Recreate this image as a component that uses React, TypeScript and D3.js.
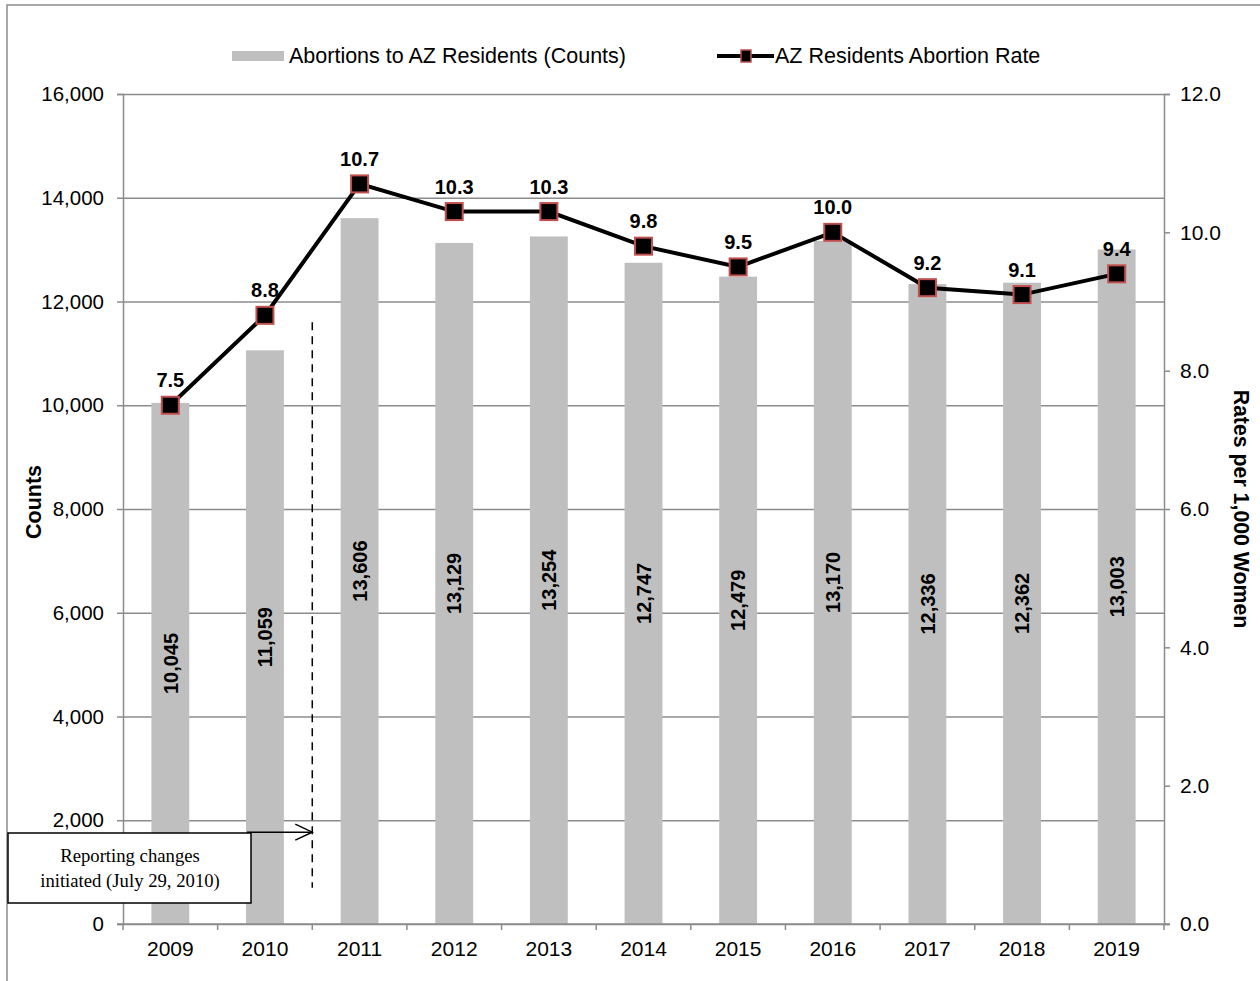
import { useEffect, useRef } from 'react'
import * as d3 from 'd3'

const W = 1260
const H = 981
const MARGIN = { top: 94, right: 96, bottom: 57, left: 123 }

const YEARS = ['2009', '2010', '2011', '2012', '2013', '2014', '2015', '2016', '2017', '2018', '2019']
const COUNTS = [10045, 11059, 13606, 13129, 13254, 12747, 12479, 13170, 12336, 12362, 13003]
const RATES = [7.5, 8.8, 10.7, 10.3, 10.3, 9.8, 9.5, 10.0, 9.2, 9.1, 9.4]
const COUNT_TICKS = [0, 2000, 4000, 6000, 8000, 10000, 12000, 14000, 16000]
const RATE_TICKS = [0, 2, 4, 6, 8, 10, 12]

const BAR_COLOR = '#bfbfbf'
const GRID = '#8c8c8c'
const MARKER_STROKE = '#c0504d'
const FONT = 'Liberation Sans, Arial, sans-serif'
const SERIF = 'Liberation Serif, Times New Roman, serif'

export default function App() {
  const svgRef = useRef<SVGSVGElement>(null)

  useEffect(() => {
    const svgEl = svgRef.current
    if (!svgEl) return
    const svg = d3.select(svgEl)
    svg.selectAll('*').remove()

    const innerWidth = W - MARGIN.left - MARGIN.right
    const innerHeight = H - MARGIN.top - MARGIN.bottom

    // outer frame
    svg.append('rect')
      .attr('x', 7).attr('y', 5).attr('width', W + 20).attr('height', H + 20)
      .attr('fill', 'white').attr('stroke', '#8c8c8c').attr('stroke-width', 1.5)

    const g = svg.append('g').attr('transform', `translate(${MARGIN.left},${MARGIN.top})`)

    // ── Scales ──
    const x = d3.scaleBand<string>().domain(YEARS).range([0, innerWidth]).paddingInner(0).paddingOuter(0)
    const yL = d3.scaleLinear([0, 16000], [innerHeight, 0])
    const yR = d3.scaleLinear([0, 12], [innerHeight, 0])
    const barW = x.bandwidth() * 0.4

    // ── Grid ──
    g.append('g')
      .call(d3.axisLeft(yL).tickValues(COUNT_TICKS).tickSize(-innerWidth).tickFormat(() => ''))
      .call(ag => ag.select('.domain').remove())
      .call(ag => ag.selectAll('.tick line').attr('stroke', GRID).attr('stroke-width', 1.5))

    // ── Bars ──
    g.selectAll('rect.bar')
      .data(COUNTS)
      .join('rect')
      .attr('class', 'bar')
      .attr('x', (_, i) => x(YEARS[i])! + (x.bandwidth() - barW) / 2)
      .attr('width', barW)
      .attr('y', d => yL(d))
      .attr('height', d => innerHeight - yL(d))
      .attr('fill', BAR_COLOR)

    // bar labels (rotated)
    g.selectAll('text.barlabel')
      .data(COUNTS)
      .join('text')
      .attr('class', 'barlabel')
      .attr('transform', (d, i) => {
        const cx = x(YEARS[i])! + x.bandwidth() / 2
        const cy = yL(d / 2)
        return `translate(${cx},${cy}) rotate(-90)`
      })
      .attr('text-anchor', 'middle').attr('dy', '0.36em')
      .attr('font-family', FONT).attr('font-weight', 'bold').attr('font-size', 20)
      .attr('fill', '#000')
      .text(d => d3.format(',')(d))

    // ── Axes ──
    g.append('g')
      .call(d3.axisLeft(yL).tickValues(COUNT_TICKS).tickSize(6).tickPadding(13).tickFormat(d => d3.format(',')(d as number)))
      .call(ag => ag.select('.domain').attr('stroke', GRID).attr('stroke-width', 1.5))
      .call(ag => ag.selectAll('.tick line').attr('stroke', GRID).attr('stroke-width', 1.5))
      .call(ag => ag.selectAll('text').attr('fill', '#000').attr('font-size', 20.5).attr('font-family', FONT))

    g.append('g')
      .attr('transform', `translate(${innerWidth},0)`)
      .call(d3.axisRight(yR).tickValues(RATE_TICKS).tickSize(6).tickPadding(10).tickFormat(d3.format('.1f')))
      .call(ag => ag.select('.domain').attr('stroke', GRID).attr('stroke-width', 1.5))
      .call(ag => ag.selectAll('.tick line').attr('stroke', GRID).attr('stroke-width', 1.5))
      .call(ag => ag.selectAll('text').attr('fill', '#000').attr('font-size', 21).attr('font-family', FONT))

    const xAxis = g.append('g').attr('transform', `translate(0,${innerHeight})`)
    xAxis.append('line')
      .attr('x1', -6).attr('x2', innerWidth + 6)
      .attr('stroke', GRID).attr('stroke-width', 1.5)
    const bounds = YEARS.map(yr => x(yr)!).concat([innerWidth])
    xAxis.selectAll('line.xt')
      .data(bounds)
      .join('line')
      .attr('class', 'xt')
      .attr('x1', d => d).attr('x2', d => d).attr('y1', 0).attr('y2', 6)
      .attr('stroke', GRID).attr('stroke-width', 1.5)
    xAxis.selectAll('text')
      .data(YEARS)
      .join('text')
      .attr('x', d => x(d)! + x.bandwidth() / 2).attr('y', 32)
      .attr('text-anchor', 'middle')
      .attr('font-family', FONT).attr('font-size', 21).attr('fill', '#000')
      .text(d => d)

    // axis titles
    svg.append('text')
      .attr('transform', `translate(41,${502}) rotate(-90)`)
      .attr('text-anchor', 'middle')
      .attr('font-family', FONT).attr('font-weight', 'bold').attr('font-size', 21.5)
      .text('Counts')
    svg.append('text')
      .attr('transform', `translate(1234,${509}) rotate(90)`)
      .attr('text-anchor', 'middle')
      .attr('font-family', FONT).attr('font-weight', 'bold').attr('font-size', 21.3)
      .text('Rates per 1,000 Women')

    // ── Reporting change annotation ──
    const changeX = x('2011')!
    g.append('line')
      .attr('x1', changeX).attr('x2', changeX)
      .attr('y1', yL(11600)).attr('y2', yL(700))
      .attr('stroke', '#000').attr('stroke-width', 1.5).attr('stroke-dasharray', '8,6')

    const arrowY = yL(1770)
    g.append('line')
      .attr('x1', 247 - MARGIN.left).attr('x2', changeX)
      .attr('y1', arrowY).attr('y2', arrowY)
      .attr('stroke', '#000').attr('stroke-width', 1.5)
    g.append('path')
      .attr('d', `M${changeX - 17},${arrowY - 8} L${changeX},${arrowY} L${changeX - 17},${arrowY + 8}`)
      .attr('fill', 'none').attr('stroke', '#000').attr('stroke-width', 1.5)

    svg.append('rect')
      .attr('x', 8).attr('y', 833).attr('width', 243).attr('height', 70)
      .attr('fill', 'white').attr('stroke', '#000').attr('stroke-width', 1.5)
    svg.append('text')
      .attr('x', 130).attr('y', 862).attr('text-anchor', 'middle')
      .attr('font-family', SERIF).attr('font-size', 18.7)
      .text('Reporting changes')
    svg.append('text')
      .attr('x', 130).attr('y', 887).attr('text-anchor', 'middle')
      .attr('font-family', SERIF).attr('font-size', 18.7)
      .text('initiated (July 29, 2010)')

    // ── Rate line ──
    const cx = (i: number) => x(YEARS[i])! + x.bandwidth() / 2
    g.append('path')
      .datum(RATES)
      .attr('d', d3.line<number>().x((_, i) => cx(i)).y(d => yR(d)))
      .attr('fill', 'none').attr('stroke', '#000').attr('stroke-width', 4)

    const M = 17
    g.selectAll('rect.marker')
      .data(RATES)
      .join('rect')
      .attr('class', 'marker')
      .attr('x', (_, i) => cx(i) - M / 2).attr('y', d => yR(d) - M / 2)
      .attr('width', M).attr('height', M)
      .attr('fill', '#000').attr('stroke', MARKER_STROKE).attr('stroke-width', 2)

    g.selectAll('text.ratelabel')
      .data(RATES)
      .join('text')
      .attr('class', 'ratelabel')
      .attr('x', (_, i) => cx(i)).attr('y', d => yR(d) - 18)
      .attr('text-anchor', 'middle')
      .attr('font-family', FONT).attr('font-weight', 'bold').attr('font-size', 20)
      .text(d => d3.format('.1f')(d))

    // ── Legend ──
    const lg = svg.append('g')
    lg.append('rect')
      .attr('x', 232).attr('y', 51).attr('width', 52).attr('height', 10)
      .attr('fill', BAR_COLOR)
    lg.append('text')
      .attr('x', 289).attr('y', 63)
      .attr('font-family', FONT).attr('font-size', 21.5)
      .text('Abortions to AZ Residents (Counts)')
    lg.append('line')
      .attr('x1', 717).attr('x2', 774).attr('y1', 56).attr('y2', 56)
      .attr('stroke', '#000').attr('stroke-width', 4)
    lg.append('rect')
      .attr('x', 741).attr('y', 50).attr('width', 10).attr('height', 12)
      .attr('fill', '#000').attr('stroke', MARKER_STROKE).attr('stroke-width', 1.5)
    lg.append('text')
      .attr('x', 775).attr('y', 63)
      .attr('font-family', FONT).attr('font-size', 21.5)
      .text('AZ Residents Abortion Rate')
  }, [])

  return (
    <div style={{ position: 'absolute', left: 0, top: 0 }}>
      <svg ref={svgRef} width={W} height={H} style={{ display: 'block' }} />
    </div>
  )
}
